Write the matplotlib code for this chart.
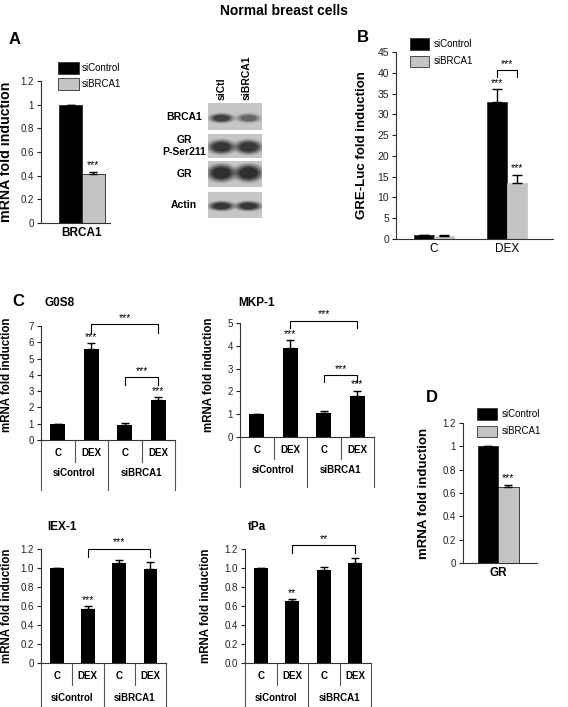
import matplotlib
matplotlib.use("Agg")
import matplotlib.pyplot as plt
from matplotlib.patches import Rectangle, Ellipse

plt.rcParams["font.family"] = ["Liberation Sans", "DejaVu Sans"]

W, H = 568, 707

# ---- data ----
# panel A: BRCA1 mRNA
a_names = ["siControl", "siBRCA1"]
a_vals = [1.0, 0.41]
a_err = [0.0, 0.025]

# western blot
blot_rows = ["BRCA1", "GR\nP-Ser211", "GR", "Actin"]
blot_lanes = ["siCtl", "siBRCA1"]
band_strength = [[0.75, 0.45], [0.85, 0.85], [0.95, 0.95], [0.85, 0.85]]

# panel B: GRE-Luc
b_groups = ["C", "DEX"]
b_ctrl = [0.9, 33.0]
b_ctrl_err = [0.15, 3.0]
b_brca = [0.7, 13.5]
b_brca_err = [0.15, 2.0]

# panel C
c_cats = ["C", "DEX", "C", "DEX"]
c_groups = ["siControl", "siBRCA1"]
g0s8_vals = [1.0, 5.6, 0.95, 2.45]
g0s8_err = [0.0, 0.35, 0.1, 0.2]
g0s8_stars = ["", "***", "", "***"]
mkp1_vals = [1.0, 3.9, 1.05, 1.78]
mkp1_err = [0.0, 0.35, 0.08, 0.25]
mkp1_stars = ["", "***", "", "***"]
iex1_vals = [1.0, 0.57, 1.05, 0.99]
iex1_err = [0.0, 0.03, 0.03, 0.07]
iex1_stars = ["", "***", "", ""]
tpa_vals = [1.0, 0.65, 0.98, 1.05]
tpa_err = [0.0, 0.02, 0.03, 0.06]
tpa_stars = ["", "**", "", ""]

# panel D: GR mRNA
d_vals = [1.0, 0.65]
d_err = [0.0, 0.02]

GRAY = "#c4c4c4"
STAR = 7.5

fig = plt.figure(figsize=(W / 100, H / 100), dpi=100)


def px_axes(x0, y0, x1, y1):
    return fig.add_axes([x0 / W, 1 - y1 / H, (x1 - x0) / W, (y1 - y0) / H])


def ftext(x, y, s, **kw):
    fig.text(x / W, 1 - y / H, s, **kw)


def style(ax, ymax, ticks, labels, size=7):
    ax.set_ylim(0, ymax)
    ax.set_yticks(ticks)
    ax.set_yticklabels(labels, fontsize=size)
    ax.spines["top"].set_visible(False)
    ax.spines["right"].set_visible(False)
    for s in ["left", "bottom"]:
        ax.spines[s].set_linewidth(0.8)
        ax.spines[s].set_color("#333333")
    ax.tick_params(axis="y", length=3, width=0.8, pad=2, colors="#222222")
    ax.tick_params(axis="x", length=0)
    ax.patch.set_alpha(0)


def ylab(ax, text, x_px, ax_x0, ax_w, size, yfrac=0.5):
    ax.set_ylabel(text, fontsize=size, fontweight="bold")
    ax.yaxis.set_label_coords((x_px - ax_x0) / ax_w, yfrac)


def err(ax, x, v, e, cap=3):
    ax.errorbar(x, v, yerr=[[0] * len(e), e], fmt="none", ecolor="black",
                elinewidth=1, capsize=cap, capthick=1)


def stars(ax, x, v, e, labels, pad):
    for xi, vi, ei, s in zip(x, v, e, labels):
        if s:
            ax.text(xi, vi + ei + pad, s, ha="center", va="bottom", fontsize=STAR)


def bracket(ax, x1, x2, y, drop, label):
    ax.plot([x1, x1, x2, x2], [y - drop, y, y, y - drop], color="black",
            lw=0.8, clip_on=False)
    ax.text((x1 + x2) / 2, y + drop * 0.2, label, ha="center", va="bottom",
            fontsize=STAR, clip_on=False)


def legend_px(x, y1, y2, text_x):
    for (yt, yb), col, name in zip([y1, y2], ["black", GRAY], a_names):
        r = Rectangle((x[0] / W, 1 - yb / H), (x[1] - x[0]) / W, (yb - yt) / H,
                      transform=fig.transFigure, facecolor=col,
                      edgecolor="#333333", lw=0.6)
        fig.add_artist(r)
        ftext(text_x, (yt + yb) / 2, name, fontsize=7, va="center", ha="left")


def table(ax, bottom, row1, t1, t2):
    tr = ax.get_xaxis_transform()
    for x, low in [(-0.5, bottom), (0.5, row1), (1.5, bottom), (2.5, row1), (3.5, bottom)]:
        ax.plot([x, x], [0, low], transform=tr, color="#555555", lw=0.8,
                clip_on=False)
    for i, c in enumerate(c_cats):
        ax.text(i, t1, c, transform=tr, ha="center", va="center",
                fontsize=7, fontweight="bold")
    for g, name in enumerate(c_groups):
        ax.text(0.5 + 2 * g, t2, name, transform=tr, ha="center",
                va="center", fontsize=7, fontweight="bold")


# title and panel letters
ftext(284, 11, "Normal breast cells", fontsize=10, fontweight="bold",
      ha="center", va="center")
for letter, x, y in [("A", 15, 40), ("B", 363, 37), ("C", 18, 302), ("D", 432, 398)]:
    ftext(x, y, letter, fontsize=12, fontweight="bold", ha="center", va="center")

# ---- panel A ----
ax = px_axes(41, 81, 110, 223)
xa = [-0.5, 0.5]
ax.bar(xa, a_vals, 1.0, color=["black", GRAY], edgecolor="#222222", lw=0.6)
err(ax, xa, a_vals, a_err)
stars(ax, xa[1:], a_vals[1:], a_err[1:], ["***"], 0.015)
ax.set_xlim(-1.82, 1.24)
style(ax, 1.2, [0, 0.2, 0.4, 0.6, 0.8, 1.0, 1.2],
      ["0", "0.2", "0.4", "0.6", "0.8", "1", "1.2"])
ax.set_xticks([0])
ax.set_xticklabels(["BRCA1"], fontsize=8.5, fontweight="bold")
ax.tick_params(axis="x", pad=3)
ylab(ax, "mRNA fold induction", 13, 41, 69, 10.2)
legend_px((58, 79), (62, 74), (78, 90), 82)

# ---- western blot ----
row_px = [(103, 130), (134, 158), (161, 187), (192, 218)]
band_shape = [(0.44, 0.32, 0.85), (0.46, 0.55, 0.95), (0.54, 0.62, 0.98), (0.46, 0.34, 0.9)]
for (y0, y1), name, strength, (yc, bh, bw) in zip(row_px, blot_rows, band_strength, band_shape):
    bx = px_axes(208, y0, 262, y1)
    bx.set_xlim(0, 2)
    bx.set_ylim(0, 1)
    bx.set_facecolor("#c6c6c6")
    bx.set_xticks([])
    bx.set_yticks([])
    for s in bx.spines.values():
        s.set_visible(False)
    for lane, st in enumerate(strength):
        for k, scale in enumerate([1.3, 1.1, 0.9, 0.7]):
            bx.add_patch(Ellipse((lane + 0.5, yc), bw * scale, bh * scale,
                                 facecolor="#1e1e1e", edgecolor="none",
                                 alpha=st * [0.15, 0.3, 0.5, 0.7][k]))
    ftext(184, (y0 + y1) / 2, name, fontsize=7.5, fontweight="bold",
          ha="center", va="center", multialignment="center")
for lane, name in zip([222, 247], blot_lanes):
    ftext(lane, 100, name, fontsize=7.5, fontweight="bold", rotation=90,
          ha="center", va="bottom")

# ---- panel B ----
ax = px_axes(396, 52, 553, 239)
bw = 0.28
xb = list(range(len(b_groups)))
x1 = [x - bw / 2 for x in xb]
x2 = [x + bw / 2 for x in xb]
ax.bar(x1, b_ctrl, bw, color="black", edgecolor="#222222", lw=0.5)
ax.bar(x2, b_brca, bw, color=GRAY, edgecolor=GRAY, lw=0.5)
err(ax, x1, b_ctrl, b_ctrl_err, 3.5)
err(ax, x2, b_brca, b_brca_err, 3.5)
stars(ax, x1[1:], b_ctrl[1:], b_ctrl_err[1:], ["***"], 0.4)
stars(ax, x2[1:], b_brca[1:], b_brca_err[1:], ["***"], 0.4)
bracket(ax, x1[1], x2[1], 40.6, 1.6, "***")
ax.set_xlim(-0.52, 1.63)
style(ax, 45, list(range(0, 46, 5)), [str(v) for v in range(0, 46, 5)], 7.5)
ax.set_xticks(xb)
ax.set_xticklabels(b_groups, fontsize=8.5)
ax.tick_params(axis="x", pad=3)
ylab(ax, "GRE-Luc fold induction", 368, 396, 157, 9.5)
legend_px((410, 429), (38, 50), (56, 67), 434)

# ---- panel C ----
c_specs = [
    ((41, 326, 175, 440), "G0S8", (60, 303), g0s8_vals, g0s8_err, g0s8_stars, 7,
     list(range(8)), [str(v) for v in range(8)],
     [(1, 3, 7.1, 0.5), (2, 3, 3.85, 0.45)], "***", 13, 0.57, "top"),
    ((240, 323, 374, 437), "MKP-1", (257, 303), mkp1_vals, mkp1_err, mkp1_stars, 5,
     list(range(6)), [str(v) for v in range(6)],
     [(1, 3, 5.1, 0.32), (2, 3, 2.7, 0.28)], "***", 215, 0.55, "top"),
    ((41, 549, 166, 663), "IEX-1", (62, 527), iex1_vals, iex1_err, iex1_stars, 1.2,
     [0, 0.2, 0.4, 0.6, 0.8, 1.0, 1.2], ["0", "0.2", "0.4", "0.6", "0.8", "1.0", "1.2"],
     [(1, 3, 1.2, 0.08)], "***", 13, 0.5, "bottom"),
    ((245, 549, 371, 663), "tPa", (257, 527), tpa_vals, tpa_err, tpa_stars, 1.2,
     [0, 0.2, 0.4, 0.6, 0.8, 1.0, 1.2], ["0.0", "0.2", "0.4", "0.6", "0.8", "1.0", "1.2"],
     [(1, 3, 1.24, 0.08)], "**", 212, 0.5, "bottom"),
]
for box, title, tpos, vals, errs, st, ymax, ticks, labels, brs, blab, ylx, yfr, row in c_specs:
    ax = px_axes(*box)
    xc = list(range(len(c_cats)))
    ax.bar(xc, vals, 0.44, color="black")
    err(ax, xc, vals, errs, 3)
    stars(ax, xc, vals, errs, st, ymax * 0.01)
    for i, j, y, d in brs:
        bracket(ax, i, j, y, d, blab)
    ax.set_xlim(-0.5, 3.5)
    style(ax, ymax, ticks, labels, 7)
    ax.set_xticks([])
    hgt = box[3] - box[1]
    if row == "top":
        table(ax, -50 / hgt, -22 / hgt, -13 / hgt, -33 / hgt)
    else:
        table(ax, -50 / hgt, -22 / hgt, -13 / hgt, -35 / hgt)
    ylab(ax, "mRNA fold induction", ylx, box[0], box[2] - box[0], 8.3, yfr)
    ftext(tpos[0], tpos[1], title, fontsize=8.5, fontweight="bold",
          ha="center", va="center")

# ---- panel D ----
ax = px_axes(463, 423, 537, 563)
ax.bar(xa, d_vals, 1.0, color=["black", GRAY], edgecolor="#222222", lw=0.6)
err(ax, xa, d_vals, d_err)
stars(ax, xa[1:], d_vals[1:], d_err[1:], ["***"], 0.015)
ax.set_xlim(-1.71, 1.9)
style(ax, 1.2, [0, 0.2, 0.4, 0.6, 0.8, 1.0, 1.2],
      ["0", "0.2", "0.4", "0.6", "0.8", "1", "1.2"])
ax.set_xticks([0])
ax.set_xticklabels(["GR"], fontsize=8.5, fontweight="bold")
ax.tick_params(axis="x", pad=3)
ylab(ax, "mRNA fold induction", 430, 463, 74, 9.5)
legend_px((477, 497), (408, 420), (426, 437), 502)

fig.savefig("out.png", dpi=100)
